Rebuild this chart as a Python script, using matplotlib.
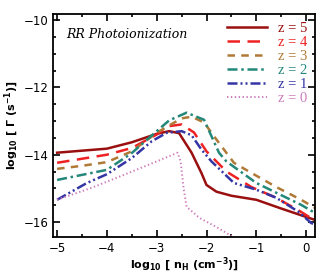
import matplotlib
matplotlib.use("Agg")
import matplotlib.pyplot as plt
from matplotlib.ticker import MultipleLocator

plt.rcParams['mathtext.default'] = 'bf'

# log10 nH vs log10 Gamma, one pair of lists per redshift
x_z5 = [-5.0, -4.5, -4.0, -3.5, -3.0, -2.75, -2.55, -2.3, -2.1, -2.0, -1.8, -1.5, -1.0, -0.5, 0.0, 0.2]
y_z5 = [-13.94, -13.88, -13.82, -13.63, -13.38, -13.3, -13.36, -13.94, -14.55, -14.9, -15.1, -15.22, -15.34, -15.6, -15.85, -15.95]

x_z4 = [-5.0, -4.5, -4.0, -3.5, -3.0, -2.75, -2.5, -2.25, -2.0, -1.6, -1.1, -0.6, -0.1, 0.2]
y_z4 = [-14.24, -14.12, -14.0, -13.8, -13.4, -13.15, -13.1, -13.34, -13.9, -14.5, -14.96, -15.28, -15.7, -15.98]

x_z3 = [-5.0, -4.5, -4.0, -3.5, -3.0, -2.75, -2.5, -2.3, -2.05, -1.8, -1.45, -1.1, -0.6, -0.1, 0.2]
y_z3 = [-14.42, -14.33, -14.22, -13.9, -13.35, -13.13, -12.92, -12.87, -13.04, -13.55, -14.24, -14.54, -14.96, -15.34, -15.6]

x_z2 = [-5.0, -4.5, -4.0, -3.5, -3.0, -2.75, -2.4, -2.05, -1.75, -1.6, -1.0, -0.6, -0.1, 0.2]
y_z2 = [-14.75, -14.6, -14.45, -13.95, -13.3, -12.98, -12.75, -12.96, -13.94, -14.2, -14.84, -15.13, -15.49, -15.75]

x_z1 = [-5.0, -4.4, -4.0, -3.5, -3.1, -2.8, -2.5, -2.3, -2.1, -1.9, -1.45, -1.0, -0.6, -0.15, 0.1, 0.18]
y_z1 = [-15.34, -14.84, -14.58, -14.1, -13.6, -13.35, -13.3, -13.42, -13.85, -14.2, -14.84, -15.04, -15.28, -15.7, -16.03, -16.08]

x_z0 = [-5.0, -4.3, -3.66, -3.0, -2.58, -2.52, -2.46, -2.4, -2.14, -1.8, -1.46, -1.2]
y_z0 = [-15.34, -14.98, -14.6, -14.2, -13.94, -14.2, -15.0, -15.55, -15.88, -16.15, -16.45, -16.7]

labels = ['z = 5', 'z = 4', 'z = 3', 'z = 2', 'z = 1', 'z = 0']
colors = ['#9a0f0f', '#ee2222', '#b07a36', '#23877a', '#3535a5', '#cc7cbc']

fig = plt.figure(figsize=(3.32, 2.77), dpi=100)
ax = fig.add_axes([0.160, 0.144, 0.789, 0.805])

ax.plot(x_z5, y_z5, color=colors[0], lw=1.8, ls='-', label=labels[0])
ax.plot(x_z4, y_z4, color=colors[1], lw=1.8, ls=(0, (5, 3)), label=labels[1])
ax.plot(x_z3, y_z3, color=colors[2], lw=1.8, ls=(0, (3, 2.5)), label=labels[2])
ax.plot(x_z2, y_z2, color=colors[3], lw=1.8, ls=(0, (4, 1.5, 1, 1.5)), label=labels[3])
ax.plot(x_z1, y_z1, color=colors[4], lw=1.8, ls=(0, (4, 1.2, 0.8, 1.2, 0.8, 1.2)), label=labels[4])
ax.plot(x_z0, y_z0, color=colors[5], lw=1.4, ls=(0, (0.7, 1.3)), label=labels[5])

ax.set_xlim(-5.08, 0.18)
ax.set_ylim(-16.45, -9.82)
ax.xaxis.set_major_locator(MultipleLocator(1))
ax.xaxis.set_minor_locator(MultipleLocator(0.5))
ax.yaxis.set_major_locator(MultipleLocator(2))
ax.yaxis.set_minor_locator(MultipleLocator(0.5))
ax.tick_params(which='both', direction='in', top=True, right=True, width=1.2,
               labelsize=8.5)
ax.tick_params(which='major', length=5)
ax.tick_params(which='minor', length=2.5)
for s in ax.spines.values():
    s.set_linewidth(1.3)

ax.set_xlabel(r'log$_{10}$ [ n$_H$ (cm$^{-3}$)]', fontsize=8, fontweight='bold', labelpad=1)
ax.set_ylabel(r'log$_{10}$ [ $\Gamma$ (s$^{-1}$)]', fontsize=8, fontweight='bold', labelpad=2)

ax.text(0.05, 0.94, 'RR Photoionization', transform=ax.transAxes, fontsize=9,
        family='DejaVu Serif', style='italic', va='top', ha='left')

leg = ax.legend(loc='upper right', frameon=False, handlelength=2.8,
                labelspacing=0.05, borderaxespad=0.15, handletextpad=0.7,
                prop={'family': 'Liberation Serif', 'size': 10.5})
for txt, c in zip(leg.get_texts(), colors):
    txt.set_color(c)

fig.savefig('out.png', dpi=100)
